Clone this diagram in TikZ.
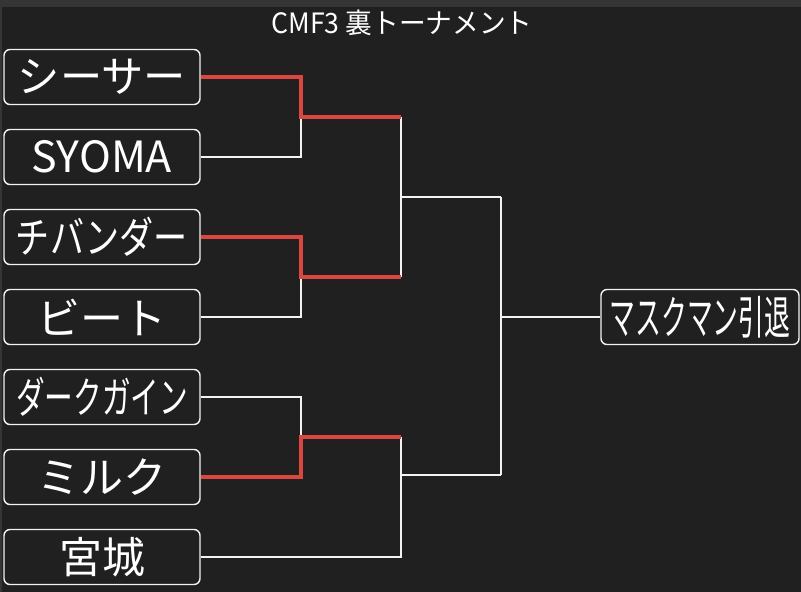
\documentclass[tikz,border=0pt]{standalone}
\usepackage{fontspec}
\setmainfont{Noto Sans CJK JP}
\usepackage{graphicx}
\usepackage{tikz}
\usetikzlibrary{positioning, calc}
\definecolor{bg}{HTML}{202020}
\definecolor{topbar}{HTML}{353535}
\definecolor{win}{HTML}{D9473E}
\definecolor{wire}{HTML}{F2F2F2}
\newcommand{\fitname}[2]{%  \fitname{max width}{text}
  \sbox0{#2}\ifdim\wd0>#1\resizebox{#1}{\height}{#2}\else#2\fi}
\tikzset{
  player/.style={draw=wire, line width=1.4pt, rounded corners=6pt, fill=bg,
    minimum width=196pt, minimum height=55pt, inner sep=0pt,
    text=white, font=\fontsize{43}{46}\selectfont},
  lose/.style={draw=wire, line width=1.4pt},
  winner/.style={draw=win, line width=3.2pt}
}

\begin{document}
\begin{tikzpicture}[x=1pt, y=-1pt]
    \useasboundingbox (0,0) rectangle (801,592);
    \fill[bg] (0,0) rectangle (801,592);
    \fill[topbar] (0,0) rectangle (801,7);
    \fill[topbar] (0,7) rectangle (2,592);
    \node[text=white, font=\fontsize{28}{30}\selectfont] (title) at (402,23)
      {\resizebox{261pt}{\height}{CMF3 裏トーナメント}};
    % ── Round 1: players
    \node[player] (shisa)  at (102,77)  {\fitname{168pt}{シーサー}};
    \node[player] (syoma)  at (102,157) {\fitname{172pt}{SYOMA}};
    \node[player] (chiban) at (102,237) {\fitname{172pt}{チバンダー}};
    \node[player] (beat)   at (102,317) {\fitname{172pt}{ビート}};
    \node[player] (dark)   at (102,397) {\fitname{172pt}{ダークガイン}};
    \node[player] (milk)   at (102,477) {\fitname{172pt}{ミルク}};
    \node[player] (miyagi) at (102,557) {\fitname{172pt}{宮城}};
    \node[player, minimum width=198pt, font=\fontsize{46}{48}\selectfont]
      (final) at (700,317) {\fitname{181pt}{マスクマン引退}};
    % ── junctions
    \coordinate (m1) at (301,117);  \coordinate (s1) at (401,117);
    \coordinate (m2) at (301,277);  \coordinate (s2) at (401,277);
    \coordinate (m3) at (301,437);  \coordinate (s3) at (401,437);
    \coordinate (q1) at (401,197);  \coordinate (r1) at (501,197);
    \coordinate (q2) at (401,475);  \coordinate (r2) at (501,475);
    \coordinate (c)  at (501,317);
    % ── losers' lines
    \draw[lose] (syoma.east) -| (m1);
    \draw[lose] (beat.east) -| (m2);
    \draw[lose] (dark.east) -| (m3);
    \draw[lose] (miyagi.east) -| (s3);
    \draw[lose] (s1) -- (s2);
    \draw[lose] (q1) -- (r1);
    \draw[lose] (q2) -- (r2);
    \draw[lose] (r1) -- (r2);
    \draw[lose] (c) -- (final.west);
    % ── winners' lines
    \draw[winner] (shisa.east) -| (m1) -- (s1);
    \draw[winner] (chiban.east) -| (m2) -- (s2);
    \draw[winner] (milk.east) -| (m3) -- (s3);
\end{tikzpicture}
\end{document}
